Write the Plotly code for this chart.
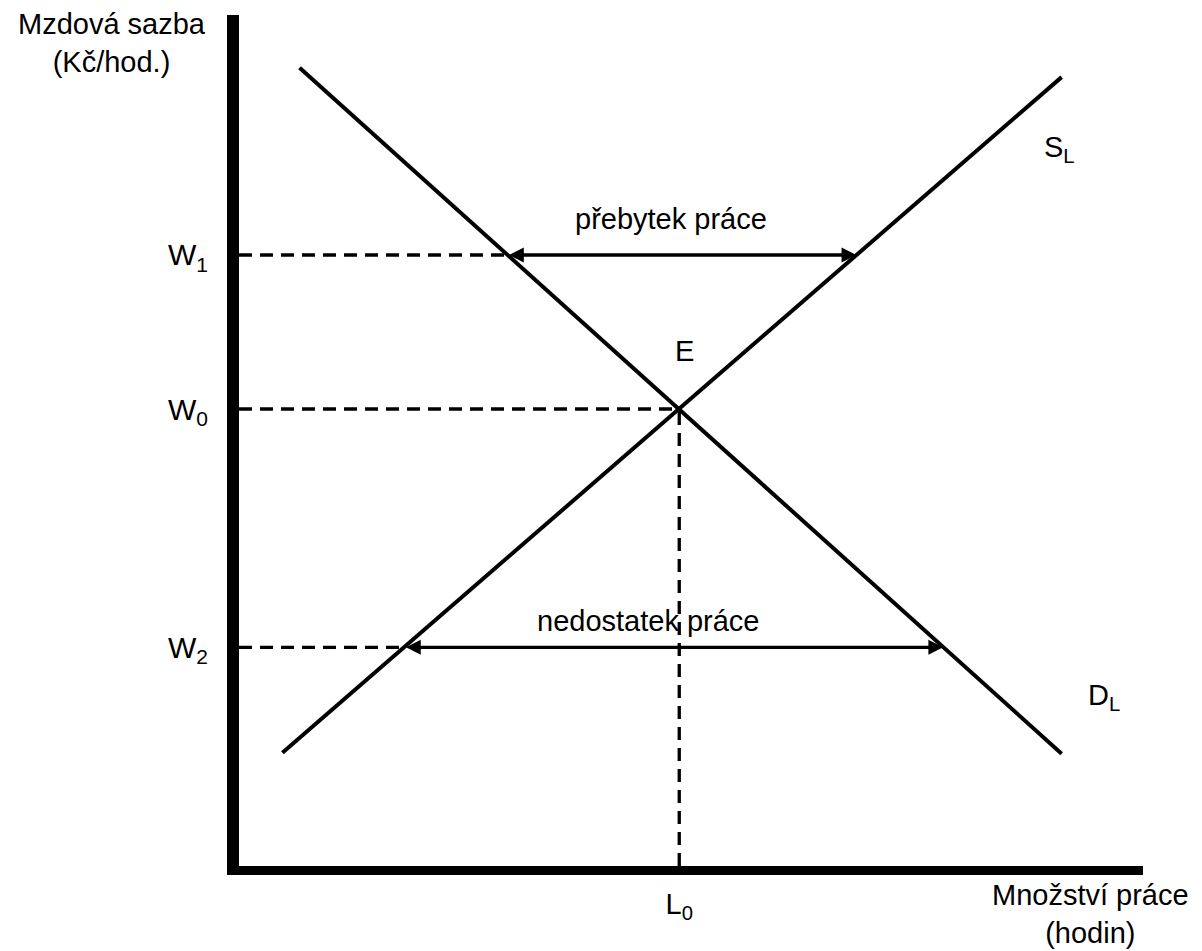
import plotly.graph_objects as go

# Poptávka po práci a nabídka práce (krajní body přímek)
demand_q = [6.7, 91.0]
demand_w = [93.8, 13.2]
supply_q = [4.8, 91.0]
supply_w = [13.3, 92.7]

# Mzdové sazby (W1, W0, W2) a rovnovážné množství L0
w_values = [71.8, 53.7, 25.7]
w_labels = ['W<sub>1</sub>', 'W<sub>0</sub>', 'W<sub>2</sub>']
l_values = [48.7]
l_labels = ['L<sub>0</sub>']

# Průsečíky mezd s křivkami (konce šipek)
surplus_q = [29.7, 68.3]   # při W1
shortage_q = [18.3, 77.9]  # při W2

FONT = 'Liberation Sans, Arial, sans-serif'

fig = go.Figure()

# Křivky D_L a S_L
fig.add_trace(go.Scatter(x=demand_q, y=demand_w, mode='lines',
                         line=dict(color='black', width=4), hoverinfo='skip'))
fig.add_trace(go.Scatter(x=supply_q, y=supply_w, mode='lines',
                         line=dict(color='black', width=4), hoverinfo='skip'))

# Přerušované čáry
dash = dict(color='black', width=3.3, dash='13px,8px')
w1, w0, w2 = w_values
fig.add_trace(go.Scatter(x=[0, surplus_q[0]], y=[w1, w1], mode='lines', line=dash, hoverinfo='skip'))
fig.add_trace(go.Scatter(x=[0, l_values[0]], y=[w0, w0], mode='lines', line=dash, hoverinfo='skip'))
fig.add_trace(go.Scatter(x=[0, shortage_q[0]], y=[w2, w2], mode='lines', line=dash, hoverinfo='skip'))
fig.add_trace(go.Scatter(x=[l_values[0], l_values[0]], y=[0, w0], mode='lines', line=dash, hoverinfo='skip'))

# Oboustranné šipky
for (qa, qb), w in [(surplus_q, w1), (shortage_q, w2)]:
    fig.add_annotation(x=qb, y=w, ax=qa, ay=w, xref='x', yref='y', axref='x', ayref='y',
                       text='', showarrow=True, arrowhead=2, arrowside='end+start',
                       arrowwidth=3.3, arrowsize=0.9, arrowcolor='black', standoff=0, startstandoff=0)

txt = dict(family=FONT, size=29, color='black')

# Popisky os (mimo vykreslovací plochu -> souřadnice papíru)
fig.add_annotation(x=-0.1405, y=0.967, xref='paper', yref='paper', text='Mzdová sazba<br>(Kč/hod.)',
                   showarrow=False, xanchor='center', yanchor='middle', font=txt)
fig.add_annotation(x=0.942, y=-0.056, xref='paper', yref='paper', text='Množství práce<br>(hodin)',
                   showarrow=False, xanchor='center', yanchor='middle', font=txt)

labels = [
    ('E', 49.3, 60.5),
    ('S<sub>L</sub>', 90.8, 84.3),
    ('D<sub>L</sub>', 95.7, 19.9),
    ('přebytek práce', 47.8, 76.0),
    ('nedostatek práce', 45.2, 28.8),
]
for t, x, y in labels:
    fig.add_annotation(x=x, y=y, xref='x', yref='y', text=t, showarrow=False,
                       xanchor='center', yanchor='middle', font=txt)

fig.update_layout(
    template='none',
    width=1202, height=951,
    margin=dict(l=239, r=59, t=15, b=85),
    paper_bgcolor='white', plot_bgcolor='white',
    showlegend=False,
    font=dict(family=FONT, size=29, color='black'),
)
fig.update_xaxes(range=[0, 100], showgrid=False, zeroline=False, automargin=False,
                 showline=True, linewidth=9, linecolor='black',
                 tickvals=l_values, ticktext=l_labels, ticks='', ticklabelstandoff=4,
                 tickfont=dict(family=FONT, size=29, color='black'))
fig.update_yaxes(range=[0, 100], showgrid=False, zeroline=False, automargin=False,
                 showline=True, linewidth=12, linecolor='black',
                 tickvals=w_values, ticktext=w_labels, ticks='', ticklabelstandoff=13,
                 tickfont=dict(family=FONT, size=30, color='black'))

fig.write_html("out.html", config={'displayModeBar': False},
               post_script="document.body.style.margin='0';")
